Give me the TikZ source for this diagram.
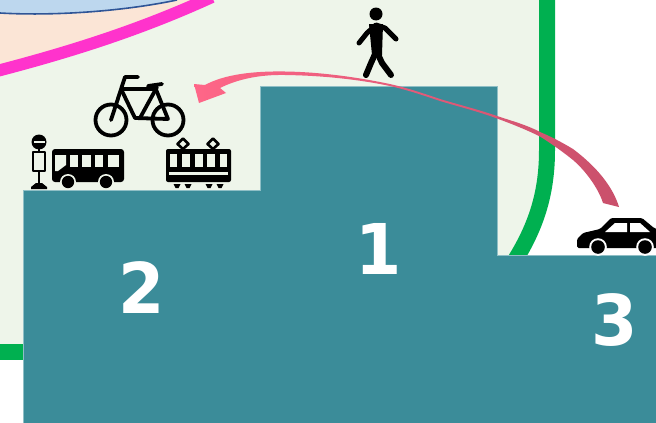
\documentclass[tikz,border=0pt]{standalone}
\usepackage{fontspec}
\setmainfont{DejaVu Sans}
\definecolor{palegreen}{HTML}{EEF5EA}
\definecolor{linegreen}{HTML}{00B050}
\definecolor{magentaline}{HTML}{FF33CC}
\definecolor{peach}{HTML}{FBE5D6}
\definecolor{skyfill}{HTML}{BDD7EE}
\definecolor{skyline}{HTML}{2F5597}
\definecolor{stepteal}{HTML}{3B8C99}
\definecolor{stepedge}{HTML}{8FBFC6}
\definecolor{arrowlight}{HTML}{FF6688}
\definecolor{arrowdark}{HTML}{C9506B}
\tikzset{
  digit/.style={text=white,font=\fontsize{70}{70}\selectfont\bfseries,inner sep=0pt,xscale=.95},
  icon/.style={line width=3.8pt,draw=black,line cap=round,line join=round},
  thinicon/.style={line width=2.6pt,draw=black,line join=round},
}
\begin{document}
\begin{tikzpicture}[x=1pt,y=-1pt]
\useasboundingbox (0,0) rectangle (656,423);
\clip (0,0) rectangle (656,423);
% background regions
\fill[white] (0,0) rectangle (656,423);
\fill[palegreen] (0,0) -- (547,0) -- (547,150) .. controls (547,190) and (535,225) .. (512,262) -- (23,262) -- (23,352) -- (0,352) -- cycle;
\fill[peach] (0,0) -- (205,0) .. controls (140,30) and (70,52) .. (0,70) -- cycle;
\fill[skyfill] (0,0) -- (177,0) .. controls (120,12) and (50,16) .. (0,13) -- cycle;
\draw[skyline,line width=1.6pt] (177,0) .. controls (120,12) and (50,16) .. (0,13);
\draw[magentaline,line width=12pt] (212,-3) .. controls (140,30) and (70,52) .. (-3,71);
% green border
\draw[linegreen,line width=16pt] (547,-5) -- (547,150) .. controls (547,190) and (538,225) .. (512,265);
\draw[linegreen,line width=16pt] (-5,352) -- (30,352);
% steps
\fill[stepteal,draw=stepedge,line width=.6pt] (23,430) -- (23,190) -- (260,190) -- (260,86) -- (497,86) -- (497,255) -- (664,255) -- (664,430) -- cycle;
\node[digit] (one) at (379,249) {1};
\node[digit] (two) at (142,288) {2};
\node[digit] (three) at (615,320) {3};
% curved arrow
\shade[left color=arrowlight,middle color=arrowlight!85!arrowdark,right color=arrowdark]
  (194,84) -- (205,85)
  .. controls (225,74) and (255,71) .. (285,71.5)
  .. controls (320,72) and (355,77) .. (385,83)
  .. controls (405,87) and (422,93) .. (440,99)
  .. controls (460,105) and (480,110) .. (497,116)
  .. controls (512,121) and (527,125) .. (540,132)
  .. controls (552,137) and (563,143) .. (573,149)
  .. controls (597,167) and (613,187) .. (619,207)
  -- (603,203)
  .. controls (599,190) and (587,172) .. (573,160)
  .. controls (563,152) and (552,144) .. (540,136.5)
  .. controls (527,130) and (512,124) .. (497,118.5)
  .. controls (480,112) and (460,107) .. (440,101)
  .. controls (422,95) and (405,89) .. (385,85)
  .. controls (355,79) and (320,75.5) .. (285,75)
  .. controls (260,74.5) and (238,79) .. (220,88)
  -- (226,93) -- (199,103) -- cycle;
% walker
\fill (376,14) circle (6.5);
\draw[icon,line width=5pt] (359,43) -- (367,33) -- (376,25) -- (385,28) -- (396,39);
\fill[line join=round] (369,24) -- (383,24) -- (382,55) -- (372,55) -- cycle;
\draw[icon,line width=6pt] (376,52) -- (371,63) -- (366,75);
\draw[icon,line width=6pt] (377,52) -- (382,63) -- (391,75);
% bicycle
\draw[icon,line width=3.8pt] (111,120) circle (15.5);
\draw[icon,line width=3.8pt] (168,120) circle (15.5);
\draw[icon] (111,120) -- (125,77) -- (138,77);
\draw[icon] (122,89) -- (155,89);
\draw[icon] (122,91) -- (135,118) -- (168,119) -- (155,87);
\draw[icon] (157,87) -- (140,118);
\draw[icon] (148,86) -- (162,84);
% bus stop
\fill (39,142) circle (7.5);
\fill[palegreen] (33.5,140.5) rectangle (44.5,142.5);
\draw[thinicon] (39,149) -- (39,152);
\draw[thinicon] (33,152) rectangle (45,171);
\draw[thinicon] (39,170) -- (39,184);
\fill (36,183) -- (42,183) -- (47,187) -- (47,189) -- (31,189) -- (31,187) -- cycle;
% bus
\fill[rounded corners=3pt] (52,149) rectangle (124,182);
\fill[palegreen] (55,155) -- (66,155) -- (66,165) -- (58,171) -- (55,171) -- cycle;
\foreach \xa/\xb in {70/78,82/91,95/103,108/119}
  \fill[palegreen] (\xa,155) rectangle (\xb,167);
\foreach \cx in {68,106} {
  \fill[palegreen] (\cx,182) circle (8);
  \fill (\cx,182) circle (6.2);
}
% tram
\fill[rounded corners=2pt] (166,149) rectangle (231,182);
\foreach \xa/\xb in {170/177,182/190,195/203,207/215,220/227}
  \fill[palegreen] (\xa,154) rectangle (\xb,167);
\fill[palegreen] (169,172) rectangle (228,175);
\foreach \cx in {183,213} {
  \draw[thinicon] (\cx,138.5) -- (\cx+5.5,144) -- (\cx,149) -- (\cx-5.5,144) -- cycle;
}
\foreach \cx in {177,188,209,220}
  \fill (\cx-3.5,184) -- (\cx+3.5,184) -- (\cx+1.5,188) -- (\cx-1.5,188) -- cycle;
% car
\fill[rounded corners=1.5pt] (577,248) -- (577,239) -- (583,233) -- (600,229) -- (611,218) -- (642,218) -- (654,228) -- (660,230) -- (660,248) -- cycle;
\fill[white] (605,232) -- (615,223) -- (627,223) -- (627,232) -- cycle;
\fill[white] (630,223) -- (640,223) -- (650,232) -- (630,232) -- cycle;
\foreach \cx in {598,645} {
  \fill[white] (\cx,247) circle (8.8);
  \fill (\cx,247) circle (6.8);
}
\end{tikzpicture}
\end{document}
